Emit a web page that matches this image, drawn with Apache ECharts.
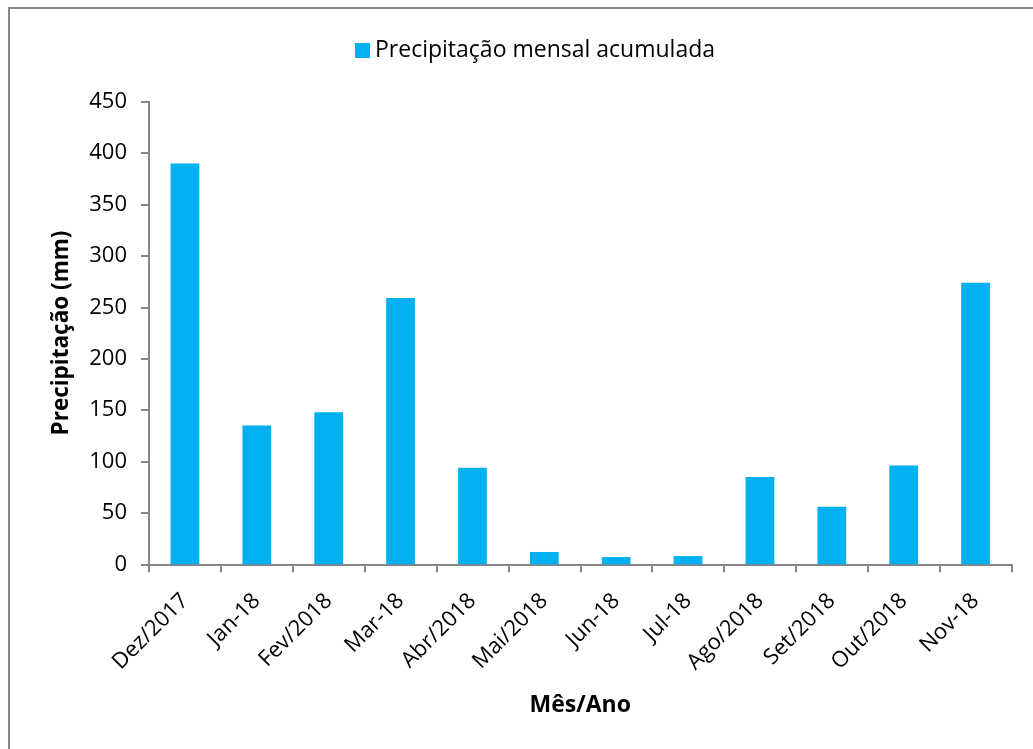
<!DOCTYPE html>
<html>
<head>
<meta charset="utf-8">
<script src="https://cdn.jsdelivr.net/npm/echarts@6/dist/echarts.min.js"></script>
<style>
  html, body { margin: 0; padding: 0; background: #fff; }
  #chart { width: 1033px; height: 749px; }
</style>
</head>
<body>
<div id="chart"></div>
<script>
// Monthly accumulated rainfall, Dec/2017 – Nov/2018
const months = ['Dez/2017', 'Jan-18', 'Fev/2018', 'Mar-18', 'Abr/2018', 'Mai/2018',
                'Jun-18', 'Jul-18', 'Ago/2018', 'Set/2018', 'Out/2018', 'Nov-18'];
const rainfall = [390, 135, 148, 259, 94, 12, 7, 8, 85, 56, 96, 274];
const seriesName = 'Precipitação mensal acumulada';

const FONT = '"Open Sans", "Noto Sans", sans-serif';
const AXIS_GREY = '#868686';

const chart = echarts.init(document.getElementById('chart'), null, { renderer: 'canvas' });
chart.setOption({
  animation: false,
  backgroundColor: '#fff',
  graphic: [{
    // chart frame: only the top and left edges fall inside the canvas
    type: 'rect',
    shape: { x: 9, y: 8, width: 1100, height: 1000 },
    style: { fill: 'none', stroke: '#878787', lineWidth: 2 },
    silent: true
  }],
  legend: {
    data: [seriesName],
    top: 34,
    left: 350,
    itemWidth: 15,
    itemHeight: 15,
    itemGap: 4,
    icon: 'rect',
    textStyle: { fontFamily: FONT, fontSize: 23, color: '#000' }
  },
  grid: { left: 149, right: 21.5, top: 101.7, bottom: 184.7 },
  xAxis: {
    type: 'category',
    data: months,
    name: 'Mês/Ano',
    nameLocation: 'middle',
    nameGap: 130,
    nameTextStyle: { fontFamily: FONT, fontSize: 23, fontWeight: 'bold', color: '#000' },
    axisLine: { lineStyle: { color: AXIS_GREY, width: 2 } },
    axisTick: { show: true, length: 8, lineStyle: { color: AXIS_GREY, width: 2 }, alignWithLabel: false },
    axisLabel: { rotate: 45, interval: 0, margin: 33, fontFamily: FONT, fontSize: 22, color: '#000' }
  },
  yAxis: {
    type: 'value',
    min: 0,
    max: 450,
    interval: 50,
    name: 'Precipitação (mm)',
    nameLocation: 'middle',
    nameGap: 76,
    nameTextStyle: { fontFamily: FONT, fontSize: 22.5, fontWeight: 'bold', color: '#000' },
    splitLine: { show: false },
    axisLine: { show: true, lineStyle: { color: AXIS_GREY, width: 2 } },
    axisTick: { show: true, length: 8, lineStyle: { color: AXIS_GREY, width: 2 } },
    axisLabel: { margin: 22, fontFamily: FONT, fontSize: 22, color: '#000' }
  },
  series: [{
    name: seriesName,
    type: 'bar',
    data: rainfall,
    barWidth: '40%',
    itemStyle: { color: '#00B0F0' }
  }]
});
</script>
</body>
</html>
